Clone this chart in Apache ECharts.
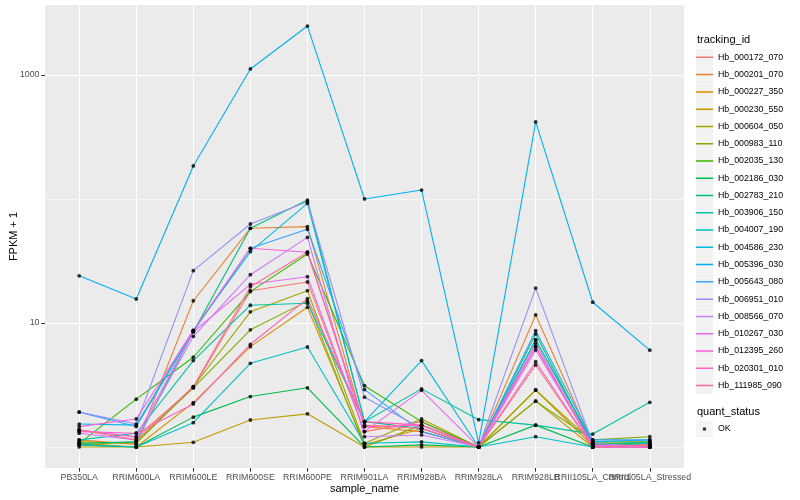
<!DOCTYPE html>
<html><head><meta charset="utf-8">
<script src="https://cdn.jsdelivr.net/npm/echarts@6/dist/echarts.min.js"></script>
<style>html,body{margin:0;padding:0;background:#fff}#c{width:800px;height:500px}</style>
</head><body><div id="c"></div>
<script>
// ---- data (FPKM + 1) ----
const categories = ['PB350LA','RRIM600LA','RRIM600LE','RRIM600SE','RRIM600PE','RRIM901LA','RRIM928BA','RRIM928LA','RRIM928LB','RRII105LA_Control','RRII105LA_Stressed'];
const trackingIds = ['Hb_000172_070','Hb_000201_070','Hb_000227_350','Hb_000230_550','Hb_000604_050','Hb_000983_110','Hb_002035_130','Hb_002186_030','Hb_002783_210','Hb_003906_150','Hb_004007_190','Hb_004586_230','Hb_005396_030','Hb_005643_080','Hb_006951_010','Hb_008566_070','Hb_010267_030','Hb_012395_260','Hb_020301_010','Hb_111985_090'];
const hb_000172_070 = [1.37, 1.20, 3.00, 18.2, 21.4, 1.33, 1.60, 1.00, 6.44, 1.05, 1.04];
const hb_000201_070 = [1.14, 1.05, 15.1, 58.0, 59.8, 1.46, 1.33, 1.00, 11.6, 1.07, 1.02];
const hb_000227_350 = [1.07, 1.00, 2.28, 6.44, 13.4, 1.04, 1.41, 1.00, 2.88, 1.02, 1.02];
const hb_000230_550 = [1.00, 1.00, 1.09, 1.65, 1.85, 1.00, 1.00, 1.00, 2.34, 1.00, 1.00];
const hb_000604_050 = [1.10, 1.07, 3.06, 12.3, 18.2, 1.07, 1.68, 1.00, 2.88, 1.10, 1.10];
const hb_000983_110 = [1.04, 1.10, 3.00, 8.80, 15.0, 1.00, 1.50, 1.00, 2.34, 1.14, 1.21];
const hb_002035_130 = [1.07, 2.43, 5.29, 17.9, 36.0, 3.12, 1.60, 1.00, 7.30, 1.07, 1.07];
const hb_002186_030 = [1.04, 1.00, 1.74, 2.55, 3.00, 1.00, 1.04, 1.00, 1.50, 1.00, 1.00];
const hb_002783_210 = [1.07, 1.10, 8.50, 58.0, 98.0, 1.60, 1.41, 1.00, 8.15, 1.04, 1.10];
const hb_003906_150 = [1.14, 1.29, 4.97, 13.9, 14.4, 1.60, 2.94, 1.66, 1.50, 1.27, 2.29];
const hb_004007_190 = [1.04, 1.00, 1.57, 4.73, 6.40, 1.07, 1.10, 1.00, 1.21, 1.00, 1.07];
const hb_004586_230 = [1.53, 1.50, 8.73, 37.6, 92.0, 1.60, 4.97, 1.00, 7.30, 1.10, 1.14];
const hb_005396_030 = [24.0, 15.6, 184.6, 1118, 2480, 100, 118, 1.08, 418, 14.7, 6.03];
const hb_005643_080 = [1.91, 1.46, 8.50, 40.0, 57.0, 2.90, 1.33, 1.00, 8.67, 1.14, 1.14];
const hb_006951_010 = [1.91, 1.53, 26.4, 62.8, 95.0, 2.52, 1.41, 1.00, 19.1, 1.07, 1.00];
const hb_008566_070 = [1.29, 1.14, 7.80, 24.5, 49.0, 1.21, 1.25, 1.00, 6.86, 1.00, 1.00];
const hb_010267_030 = [1.37, 1.21, 8.50, 20.5, 23.6, 1.33, 2.86, 1.00, 6.05, 1.04, 1.00];
const hb_012395_260 = [1.46, 1.68, 8.73, 40.0, 37.2, 1.46, 1.50, 1.00, 6.44, 1.00, 1.00];
const hb_020301_010 = [1.33, 1.29, 2.22, 6.73, 15.7, 1.60, 1.50, 1.00, 4.87, 1.00, 1.00];
const hb_111985_090 = [1.37, 1.14, 3.06, 19.6, 37.2, 1.50, 1.41, 1.00, 4.58, 1.00, 1.04];
const yMajorTicks = [10, 1000];
const yMinorTicks = [1, 100];
const quantStatus = ['OK'];

const seriesValues = [hb_000172_070,hb_000201_070,hb_000227_350,hb_000230_550,hb_000604_050,hb_000983_110,hb_002035_130,hb_002186_030,hb_002783_210,hb_003906_150,hb_004007_190,hb_004586_230,hb_005396_030,hb_005643_080,hb_006951_010,hb_008566_070,hb_010267_030,hb_012395_260,hb_020301_010,hb_111985_090];
const colors = ['#F8766D','#EA8331','#D89000','#C09B00','#A3A500','#7CAE00','#39B600','#00BB4E','#00BF7D','#00C1A3','#00BFC4','#00BAE0','#00B0F6','#35A2FF','#9590FF','#C77CFF','#E76BF3','#FA62DB','#FF62BC','#FF6C91'];

const FONT = 'Liberation Sans, Arial, Helvetica, sans-serif';
const yMin = 0.6766, yMax = 3666;
const panel = {left: 45, right: 116, top: 5, bottom: 32};
const dataGrid = {left: 79.2, right: 150.2, top: 5, bottom: 32};

const LINE_ICON = 'path://M0,0h0.01v0.01h-0.01z M0,7.8h17v1.5h-17z M16.99,16.99h0.01v0.01h-0.01z';
const DOT_ICON = 'path://M0,0h0.01v0.01h-0.01z M6.9,6.9h3.2v3.2h-3.2z M16.99,16.99h0.01v0.01h-0.01z';

const lineSeries = trackingIds.map((id, i) => ({
  name: id, type: 'line', xAxisIndex: 1, yAxisIndex: 2,
  data: seriesValues[i], showSymbol: false, symbol: 'none',
  color: colors[i], lineStyle: {width: 1.1, color: colors[i]}, z: 2, silent: true
}));
const pointData = [];
seriesValues.forEach(arr => arr.forEach((v, j) => pointData.push([j, v])));
const pointSeries = {
  name: quantStatus[0], type: 'scatter', xAxisIndex: 1, yAxisIndex: 2,
  data: pointData, symbol: 'circle', symbolSize: 3.8,
  itemStyle: {color: '#000'}, z: 5, silent: true
};

const legendBase = {orient: 'vertical', left: 696, padding: 0, itemWidth: 17, itemHeight: 17, itemGap: 0.27, selectedMode: false};

const option = {
  animation: false,
  backgroundColor: '#fff',
  grid: [
    Object.assign({show: true, backgroundColor: '#EBEBEB', borderWidth: 0, containLabel: false, outerBoundsMode: 'none'}, panel),
    Object.assign({show: false, containLabel: false, outerBoundsMode: 'none'}, dataGrid)
  ],
  xAxis: [
    {type: 'value', gridIndex: 0, min: 0, max: 1, show: false},
    {type: 'category', gridIndex: 1, data: categories, boundaryGap: false,
     axisLine: {show: false},
     axisTick: {show: true, length: 3.7, lineStyle: {color: '#333333', width: 1.07}},
     axisLabel: {interval: 0, color: '#4D4D4D', fontSize: 8.8, fontFamily: FONT, margin: 4.6, hideOverlap: false},
     splitLine: {show: true, lineStyle: {color: '#FFFFFF', width: 1.07}},
     name: 'sample_name', nameLocation: 'middle', nameGap: 15, nameMoveOverlap: false,
     nameTextStyle: {color: '#000', fontSize: 11, fontFamily: FONT}}
  ],
  yAxis: [
    {type: 'log', logBase: 10, gridIndex: 0, min: yMin, max: yMax,
     axisLine: {show: false},
     axisTick: {show: true, customValues: yMajorTicks, length: 3.7, lineStyle: {color: '#333333', width: 1.07}},
     axisLabel: {customValues: yMajorTicks, color: '#4D4D4D', fontSize: 8.8, fontFamily: FONT, margin: 5.5,
                 formatter: v => String(Math.round(v))},
     splitLine: {show: true, lineStyle: {color: '#FFFFFF', width: 1.07}},
     name: 'FPKM + 1', nameLocation: 'middle', nameGap: 26, nameRotate: 90, nameMoveOverlap: false,
     nameTextStyle: {color: '#000', fontSize: 11, fontFamily: FONT}},
    {type: 'log', logBase: 10, gridIndex: 0, min: yMin, max: yMax,
     axisLine: {show: false},
     axisTick: {show: false, customValues: yMinorTicks},
     axisLabel: {show: false, customValues: yMinorTicks},
     splitLine: {show: true, lineStyle: {color: '#FFFFFF', width: 0.55}}},
    {type: 'log', logBase: 10, gridIndex: 1, min: yMin, max: yMax, show: false}
  ],
  legend: [
    Object.assign({}, legendBase, {top: 48.8, z: 3, data: trackingIds, icon: 'rect',
      itemStyle: {color: '#F2F2F2', borderWidth: 0},
      textStyle: {fontSize: 8.8, fontFamily: FONT, color: 'rgba(0,0,0,0)'}}),
    Object.assign({}, legendBase, {top: 48.8, z: 4, data: trackingIds, icon: LINE_ICON,
      itemStyle: {borderWidth: 0},
      textStyle: {fontSize: 8.8, fontFamily: FONT, color: '#000'}}),
    Object.assign({}, legendBase, {top: 420.5, z: 3, data: quantStatus, icon: 'rect',
      itemStyle: {color: '#F2F2F2', borderWidth: 0},
      textStyle: {fontSize: 8.8, fontFamily: FONT, color: 'rgba(0,0,0,0)'}}),
    Object.assign({}, legendBase, {top: 420.5, z: 4, data: quantStatus, icon: DOT_ICON,
      itemStyle: {color: '#000', borderWidth: 0},
      textStyle: {fontSize: 8.8, fontFamily: FONT, color: '#000'}})
  ],
  graphic: [
    {type: 'text', left: 697, top: 34.5, style: {text: 'tracking_id', fontSize: 11, fontFamily: FONT, fill: '#000'}},
    {type: 'text', left: 697, top: 406.5, style: {text: 'quant_status', fontSize: 11, fontFamily: FONT, fill: '#000'}}
  ],
  series: lineSeries.concat([pointSeries])
};
const chart = echarts.init(document.getElementById('c'), null, {renderer: 'canvas'});
chart.setOption(option);
</script></body></html>
